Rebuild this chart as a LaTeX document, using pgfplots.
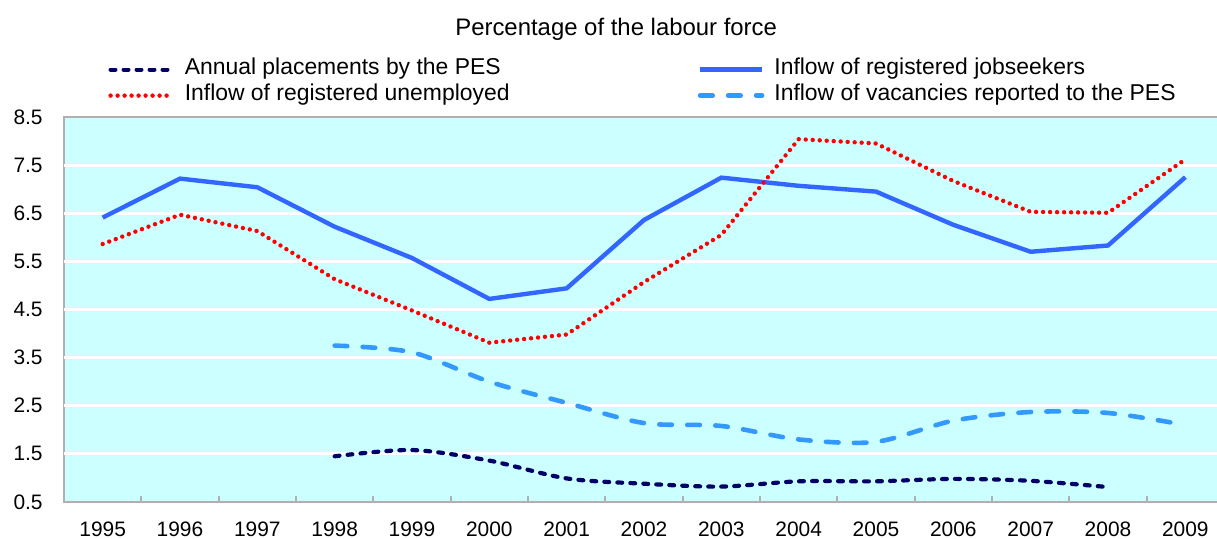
\documentclass[border=0pt]{standalone}
\usepackage{fontspec}
\setmainfont{Liberation Sans}
\usepackage{pgfplots}
\pgfplotsset{compat=1.18}
\definecolor{bgcyan}{HTML}{CCFFFF}
\definecolor{jobblue}{HTML}{3366FF}
\definecolor{vacblue}{HTML}{3399FF}
\definecolor{pesnavy}{HTML}{000066}
\definecolor{framegray}{HTML}{B0B0B0}

\begin{document}
\begin{tikzpicture}
\useasboundingbox (-32bp,-18.5bp) rectangle (576.5bp,251bp);
\begin{axis}[
  at={(0,0)}, anchor=south west,
  scale only axis,
  width=580bp, height=192.5bp,
  xmin=-0.5, xmax=14.5,
  ymin=0.5, ymax=8.5,
  axis background/.style={fill=bgcyan},
  axis line style={framegray, line width=0.9bp},
  tick align=inside,
  xtick pos=bottom, ytick pos=left,
  xtick={0,...,14},
  xticklabels={1995,1996,1997,1998,1999,2000,2001,2002,2003,2004,2005,2006,2007,2008,2009},
  minor xtick={0.5,1.5,2.5,3.5,4.5,5.5,6.5,7.5,8.5,9.5,10.5,11.5,12.5,13.5},
  major tick length=0pt,
  minor tick length=3bp,
  minor tick style={framegray, line width=0.9bp},
  ytick={0.5,1.5,2.5,3.5,4.5,5.5,6.5,7.5,8.5},
  extra y ticks={1.5,2.5,3.5,4.5,5.5,6.5,7.5},
  extra y tick labels={},
  extra y tick style={grid=major, major grid style={white, line width=1.5bp}},
  /pgf/number format/assume math mode=true,
  yticklabel style={/pgf/number format/fixed, /pgf/number format/precision=1,
    /pgf/number format/fixed zerofill, anchor=east, inner sep=0pt, xshift=-10.5bp,
    font=\fontsize{10.5}{12}\selectfont},
  xticklabel style={anchor=north, inner sep=0pt, yshift=-9.5bp,
    font=\fontsize{10.5}{12}\selectfont},
  title={Percentage of the labour force},
  title style={at={(rel axis cs:0.476,1)}, anchor=base, yshift=35bp, inner sep=0pt,
    font=\fontsize{12}{14}\selectfont},
  legend columns=2,
  legend cell align=left,
  legend image code/.code={\draw[#1] (0bp,0bp) -- (31bp,0bp);},
  legend style={draw=none, fill=none, at={(rel axis cs:0,1)}, anchor=south west,
    xshift=22bp, yshift=4bp, inner sep=0pt, row sep=0pt, column sep=3bp,
    font=\fontsize{11.5}{13}\selectfont,
    nodes={inner xsep=2bp, inner ysep=1bp, text height=8bp, text depth=3bp}},
]
% Annual placements by the PES
\addplot[pesnavy, line width=2.1bp, line cap=round, dash pattern=on 2.4bp off 4.1bp,
  smooth, tension=0.5] coordinates {
  (3,1.45) (4,1.58) (5,1.36) (6,0.99) (7,0.88) (8,0.82) (9,0.93) (10,0.93)
  (11,0.98) (12,0.94) (13,0.81)
};
% Inflow of registered jobseekers
\addplot[jobblue, line width=2.2bp] coordinates {
  (0,6.41) (1,7.22) (2,7.04) (3,6.22) (4,5.57) (5,4.72) (6,4.94) (7,6.36)
  (8,7.24) (9,7.07) (10,6.95) (11,6.26) (12,5.70) (13,5.83) (14,7.25)
};
% Inflow of registered unemployed
\addplot[red, line width=2.2bp, line cap=round, dash pattern=on 0bp off 3.5bp] coordinates {
  (0,5.86) (1,6.47) (2,6.13) (3,5.13) (4,4.48) (5,3.81) (6,3.98) (7,5.07)
  (8,6.05) (9,8.04) (10,7.95) (11,7.17) (12,6.53) (13,6.51) (14,7.62)
};
% Inflow of vacancies reported to the PES
\addplot[vacblue, line width=2.3bp, line cap=round, dash pattern=on 6.3bp off 7.7bp,
  smooth, tension=0.5] coordinates {
  (3,3.75) (4,3.61) (5,3.00) (6,2.56) (7,2.14) (8,2.08) (9,1.80) (10,1.75)
  (11,2.19) (12,2.37) (13,2.35) (14,2.10)
};
\legend{\makebox[251.5bp][l]{Annual placements by the PES},
  Inflow of registered jobseekers,
  \makebox[251.5bp][l]{Inflow of registered unemployed},
  Inflow of vacancies reported to the PES}
\end{axis}
\end{tikzpicture}
\end{document}
